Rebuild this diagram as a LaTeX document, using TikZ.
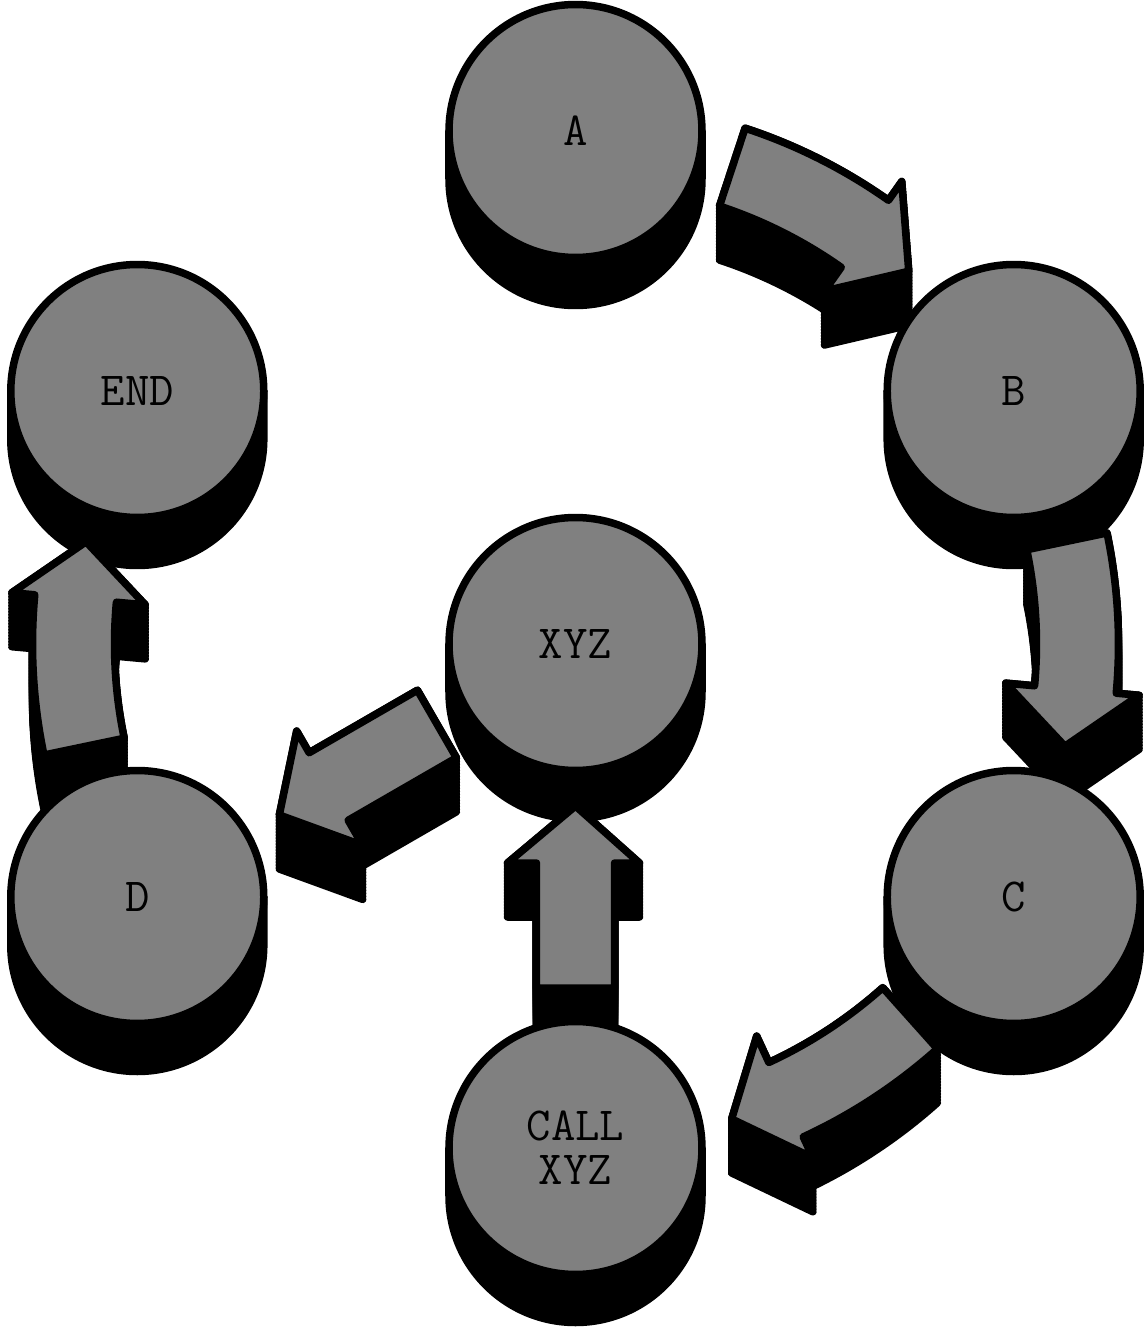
\documentclass[tikz,border=0pt]{standalone}
\usetikzlibrary{calc, backgrounds}

\tikzset{
  disc/.style={circle, draw=black, fill=gray, line width=0.15cm, minimum size=5.06cm,
    inner sep=0pt, align=center, font=\fontsize{27}{25}\selectfont\ttfamily},
  face/.style={draw=black, fill=gray, line width=0.15cm, line join=round},
  extrude/.style={draw=black, fill=black, line width=0.15cm, line join=round},
}

% side of a disc, #1 node
\newcommand\discside[1]{%
  \filldraw[extrude] ($(#1)+(126.5,0)$) -- ++(0,-48)
    arc[start angle=0, end angle=-180, radius=126.5] -- ++(0,48) -- cycle;}

% curved block arrow round the hub, #1 style, #2 from, #3 to, #4 drop
\newcommand\bendarrow[4]{%
  \pgfmathanglebetweenpoints{\pgfpointanchor{xyz}{center}}{\pgfpointanchor{#2}{center}}\let\angfrom\pgfmathresult
  \pgfmathanglebetweenpoints{\pgfpointanchor{xyz}{center}}{\pgfpointanchor{#3}{center}}\let\angto\pgfmathresult
  \pgfmathsetmacro\angmid{\angfrom+(mod(\angto-\angfrom+540,360)-180)/2}
  \begin{scope}[shift={($(xyz)+(0,-#4)$)}]
    \filldraw[#1] ({\angmid+11.8}:543) arc[start angle=\angmid+11.8, end angle=\angmid-5.2, radius=543]
      -- ({\angmid-5.2}:566) -- ({\angmid-11.8}:500) -- ({\angmid-5.2}:432) -- ({\angmid-5.2}:461)
      arc[start angle=\angmid-5.2, end angle=\angmid+11.8, radius=461] -- cycle;
  \end{scope}}

% straight block arrow, #1 style, #2 from, #3 to, #4 drop
\newcommand\flatarrow[4]{%
  \pgfmathanglebetweenpoints{\pgfpointanchor{#2}{center}}{\pgfpointanchor{#3}{center}}\let\angto\pgfmathresult
  \begin{scope}[shift={($(#2)+(0,-#4)$)}, rotate=\angto]
    \filldraw[#1] (160,39) -- (285,39) -- (285,68) -- (342,0) -- (285,-64) -- (285,-39) -- (160,-39) -- cycle;
  \end{scope}}

\begin{document}
\begin{tikzpicture}[x=0.02cm, y=0.02cm]
  \useasboundingbox (-575.5,-684) rectangle (570.5,644);

  \node[disc] (xyz) at (0,0) {XYZ};
  \node[disc] (a) at (90:513) {A};
  \node[disc] (b) at (30:506) {B};
  \node[disc] (c) at (-30:506) {C};
  \node[disc] (call) at (-90:504) {CALL\\XYZ};
  \node[disc] (d) at (210:506) {D};
  \node[disc] (stop) at (150:506) {END};

  % sides go under the faces
  \begin{pgfonlayer}{background}
    \foreach \n in {xyz, a, b, c, call, d, stop}
      \discside{\n};
    \foreach \k in {0,3,...,54} {
      \bendarrow{extrude}{a}{b}{\k}
      \bendarrow{extrude}{b}{c}{\k}
      \bendarrow{extrude}{c}{call}{\k}
      \bendarrow{extrude}{d}{stop}{\k}
      \flatarrow{extrude}{call}{xyz}{\k}
      \flatarrow{extrude}{xyz}{d}{\k}
    }
  \end{pgfonlayer}

  \bendarrow{face}{a}{b}{0}
  \bendarrow{face}{b}{c}{0}
  \bendarrow{face}{c}{call}{0}
  \bendarrow{face}{d}{stop}{0}
  \flatarrow{face}{call}{xyz}{0}
  \flatarrow{face}{xyz}{d}{0}
\end{tikzpicture}
\end{document}
